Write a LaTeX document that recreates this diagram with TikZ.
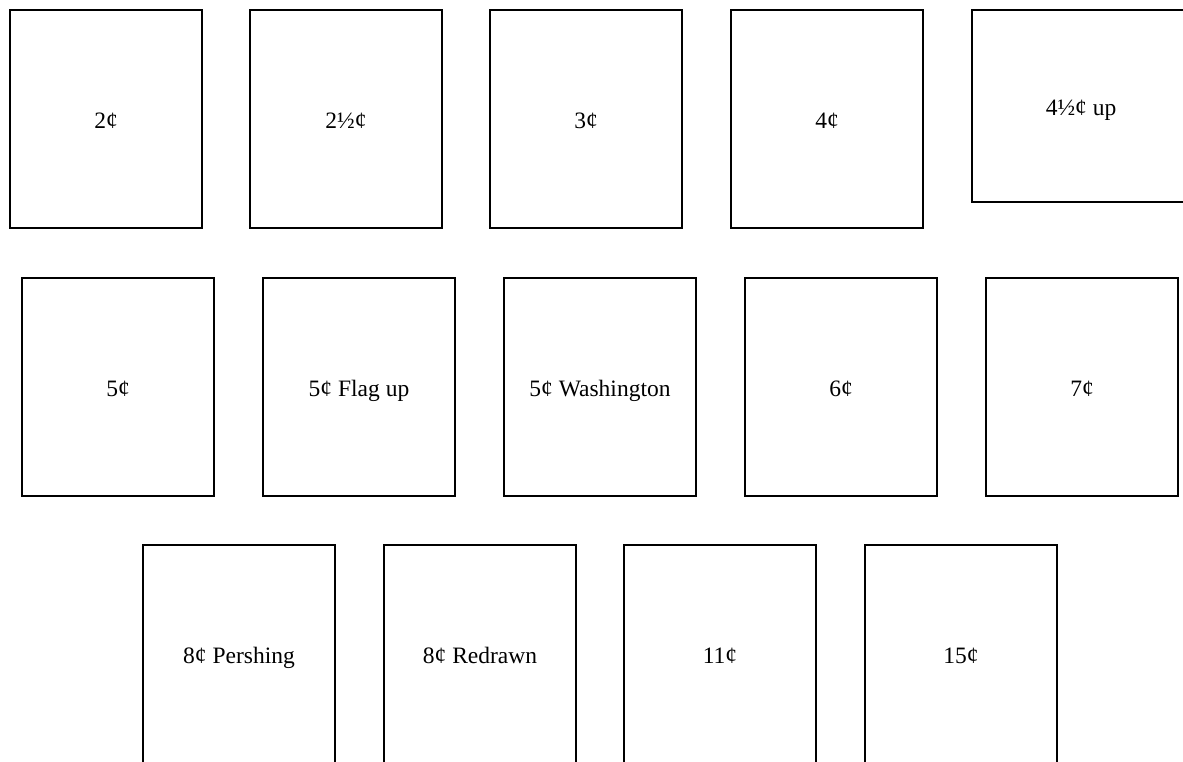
\documentclass[tikz,border=0pt]{standalone}
\usepackage{fontspec}
\setmainfont{Liberation Serif}
\begin{document}
\begin{tikzpicture}[x=1pt,y=-1pt,
  stamp/.style={draw=black, line width=2pt, rectangle, inner sep=0pt, outer sep=0pt,
    minimum width=192pt, minimum height=218pt, font=\fontsize{23.5}{28}\selectfont,
    text height=19pt, text depth=0pt},
  wide/.style={stamp, minimum width=218pt, minimum height=192pt}]
\useasboundingbox (0,0) rectangle (1183,761);
\clip (0,0) rectangle (1183,761);
% row 1
\node[stamp] (s1) at (106,119) {2¢};
\node[stamp] (s2) at (346,119) {2½¢};
\node[stamp] (s3) at (586,119) {3¢};
\node[stamp] (s4) at (827,119) {4¢};
\node[wide]  (s5) at (1081,106) {4½¢ up};
% row 2
\node[stamp] (s6) at (118,387) {5¢};
\node[stamp] (s7) at (359,387) {5¢ Flag up};
\node[stamp] (s8) at (600,387) {5¢ Washington};
\node[stamp] (s9) at (841,387) {6¢};
\node[stamp] (s10) at (1082,387) {7¢};
% row 3 (runs past the bottom edge of the picture)
\node[stamp] (s11) at (239,654) {8¢ Pershing};
\node[stamp] (s12) at (480,654) {8¢ Redrawn};
\node[stamp] (s13) at (720,654) {11¢};
\node[stamp] (s14) at (961,654) {15¢};
\end{tikzpicture}
\end{document}
